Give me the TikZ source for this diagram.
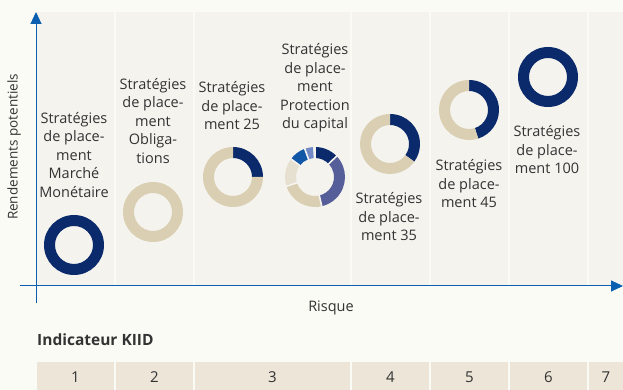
\documentclass[tikz,border=0pt]{standalone}
\usepackage{fontspec}
\setmainfont{Open Sans}
\usetikzlibrary{arrows.meta,calc}

\definecolor{PageBg}{HTML}{FBFBF5}
\definecolor{PanelBg}{HTML}{F4F3EE}
\definecolor{AxisBlue}{HTML}{0B5FB0}
\definecolor{Navy}{HTML}{0B2A6B}
\definecolor{Sand}{HTML}{DACFB3}
\definecolor{LightSand}{HTML}{E6E0D0}
\definecolor{Slate}{HTML}{565E99}
\definecolor{MidBlue}{HTML}{1257A7}
\definecolor{PaleBlue}{HTML}{7389C6}
\definecolor{BarBg}{HTML}{ECE5D8}
\definecolor{TextGray}{HTML}{333333}

\newcommand{\RingOuter}{30}
\newcommand{\RingInner}{19}
% ring part: centre, from, to (degrees clockwise from top), colour
\newcommand{\RingPart}[4]{%
	\fill[#4] ($(#1)+({90-(#2)}:\RingOuter)$)
		arc[start angle={90-(#2)}, end angle={90-(#3)}, radius=\RingOuter]
		-- ($(#1)+({90-(#3)}:\RingInner)$)
		arc[start angle={90-(#3)}, end angle={90-(#2)}, radius=\RingInner]
		-- cycle;
}

\begin{document}
\begin{tikzpicture}
	[x=1pt, y=1pt, >={Triangle[length=12pt, width=11pt]},
	 font=\fontsize{14.5}{18.5}\selectfont, text=TextGray]

	% page
	\fill[PageBg] (0,0) rectangle (623,390);
	\useasboundingbox (0,0) rectangle (623,390);

	% panel with its columns
	\begin{scope}
		\fill[PanelBg] (37,104) rectangle (623,378);
		\foreach \x in {115, 194, 351, 430, 509, 588} {
			\draw[PageBg, line width=1.5pt] (\x,104) -- (\x,378);
		}
	\end{scope}

	% axes
	\begin{scope}[->, AxisBlue, line width=1pt]
		\coordinate (y start) at (36,87);
		\coordinate (y end) at (36,378);
		\coordinate (x start) at (20,104);
		\coordinate (x end) at (623,104);
		\draw (y start) -- (y end);
		\draw (x start) -- (x end);
	\end{scope}

	% axis labels
	\node[rotate=90, font=\fontsize{13.5}{16}\selectfont] (returns) at (14,243) {Rendements potentiels};
	\node (risk) at (331,82) {Risque};

	% rings
	\begin{scope}
		\foreach \name/\x/\y in {mm/74/145, obl/153/178, s25/233/213, prot/315/213,
			s35/390/246, s45/469/280, s100/548/313} {
			\coordinate (\name) at (\x,\y);
		}

		\RingPart{mm}{0}{360}{Navy}
		\RingPart{obl}{0}{360}{Sand}
		\RingPart{s100}{0}{360}{Navy}

		% share of navy grows with the risk
		\foreach \name/\share in {s25/90, s35/126, s45/162} {
			\RingPart{\name}{0}{\share}{Navy}
			\RingPart{\name}{\share}{360}{Sand}
		}

		% protection du capital
		\foreach \from/\to/\col in {0/46/Navy, 46/167/Slate, 167/252/Sand,
			252/307/LightSand, 307/340/MidBlue, 340/356/PaleBlue} {
			\RingPart{prot}{\from}{\to}{\col}
		}
		\foreach \a in {0, 46, 167, 252, 307, 340} {
			\draw[PanelBg, line width=1.6pt] ($(prot)+({90-\a}:18)$) -- ($(prot)+({90-\a}:31)$);
		}
	\end{scope}

	% strategy labels
	\begin{scope}[every node/.style={align=center}]
		\node (mm label) at (74,235) {Stratégies\\de place-\\ment\\Marché\\Monétaire};
		\node (obl label) at (153,269) {Stratégies\\de place-\\ment\\Obliga-\\tions};
		\node (s25 label) at (232,284) {Stratégies\\de place-\\ment 25};
		\node (prot label) at (315,302) {Stratégies\\de place-\\ment\\Protection\\du capital};
		\node (s35 label) at (389,173) {Stratégies\\de place-\\ment 35};
		\node (s45 label) at (469,206) {Stratégies\\de place-\\ment 45};
		\node (s100 label) at (547,240) {Stratégies\\de place-\\ment 100};
	\end{scope}

	% KIID indicator
	\node[anchor=west, inner sep=0pt, font=\fontsize{15.5}{18}\selectfont\bfseries] (kiid) at (37,50) {Indicateur KIID};
	\begin{scope}
		\foreach \i/\a/\b in {1/37/114, 2/116/193, 3/195/350, 4/352/429,
			5/431/508, 6/510/587, 7/589/623} {
			\fill[BarBg] (\a,0) rectangle (\b,28);
			\node[font=\fontsize{15}{18}\selectfont] (kiid \i) at ({(\a+\b)/2},13) {\i};
		}
	\end{scope}

\end{tikzpicture}
\end{document}
